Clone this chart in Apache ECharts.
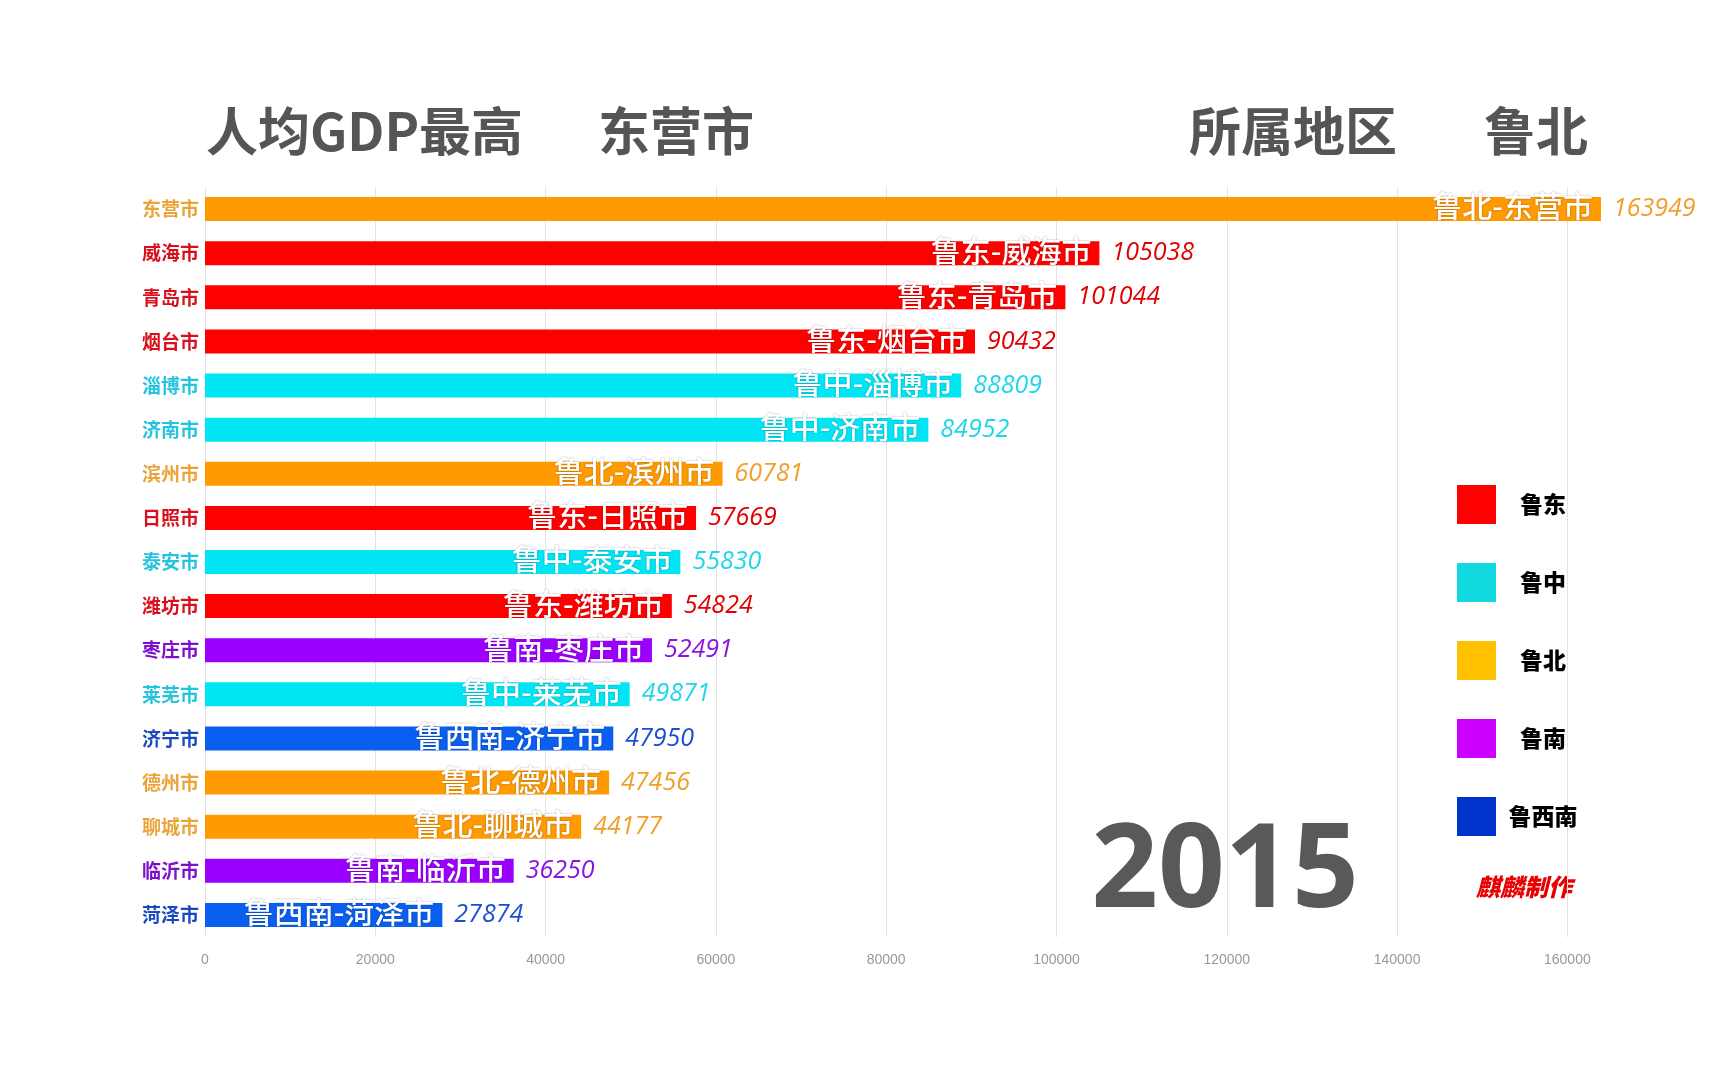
<!DOCTYPE html>
<html>
<head>
<meta charset="utf-8">
<script src="https://cdn.jsdelivr.net/npm/echarts@6/dist/echarts.min.js"></script>
<style>
html,body{margin:0;padding:0;background:#fff;}
#chart{width:1726px;height:1079px;}
</style>
</head>
<body>
<div id="chart"></div>
<script>
// ---- data ----
var cities = ['东营市','威海市','青岛市','烟台市','淄博市','济南市','滨州市','日照市','泰安市','潍坊市','枣庄市','莱芜市','济宁市','德州市','聊城市','临沂市','菏泽市'];
var cityRegions = ['鲁北','鲁东','鲁东','鲁东','鲁中','鲁中','鲁北','鲁东','鲁中','鲁东','鲁南','鲁中','鲁西南','鲁北','鲁北','鲁南','鲁西南'];
var gdpValues = [163949,105038,101044,90432,88809,84952,60781,57669,55830,54824,52491,49871,47950,47456,44177,36250,27874];
var regionNames = ['鲁东','鲁中','鲁北','鲁南','鲁西南'];
var xTicks = [0,20000,40000,60000,80000,100000,120000,140000,160000];
var yearText = '2015';
var topCity = '东营市';
var topRegion = '鲁北';

// ---- styles ----
var barColors = {'鲁东':'#ff0000','鲁中':'#00e6f5','鲁北':'#ff9a00','鲁南':'#9b00ff','鲁西南':'#0a5ff0'};
var valueColors = {'鲁东':'#e00000','鲁中':'#1fd6ea','鲁北':'#f0a02a','鲁南':'#8a14e0','鲁西南':'#1a4fd0'};
var axisColors = {'鲁东':'#d8101c','鲁中':'#22c4de','鲁北':'#eba43a','鲁南':'#7d10cc','鲁西南':'#1a48c0'};
var legendColors = {'鲁东':'#ff0000','鲁中':'#12d8e0','鲁北':'#ffc000','鲁南':'#cc00ff','鲁西南':'#0033cc'};

var chart = echarts.init(document.getElementById('chart'));

var barData = gdpValues.map(function(v,i){
  var r = cityRegions[i];
  return {value:v, itemStyle:{color:barColors[r]}};
});
var valData = gdpValues.map(function(v,i){
  var r = cityRegions[i];
  return {value:v, label:{color:valueColors[r]}};
});

var series = [
  {
    type:'bar', name:'bars', data:barData, barWidth:24, barGap:'-100%',
    animation:false,
    label:{show:true, position:'insideRight', distance:8, offset:[0,-3],
      formatter:function(p){return cityRegions[p.dataIndex]+'-'+cities[p.dataIndex];},
      color:'#fff', fontSize:30, fontWeight:500, fontFamily:'Noto Sans CJK SC',
      textShadowColor:'rgba(0,0,0,0.35)', textShadowBlur:2},
    z:3
  },
  {
    type:'bar', name:'values', data:valData, barWidth:24, barGap:'-100%',
    animation:false,
    itemStyle:{color:'rgba(0,0,0,0)'},
    label:{show:true, position:'right', distance:12,
      fontSize:25, fontStyle:'italic', fontFamily:'Open Sans'},
    z:2
  }
];
regionNames.forEach(function(r){
  series.push({type:'bar', name:r, data:[], barWidth:24, barGap:'-100%', itemStyle:{color:legendColors[r]}});
});

var titleFont = '"Noto Sans CJK SC", sans-serif';

chart.setOption({
  animation:false,
  backgroundColor:'#fff',
  grid:{left:205, right:125, top:187, bottom:142},
  xAxis:{
    type:'value', min:0, max:'dataMax', interval:20000,
    axisLine:{show:false}, axisTick:{show:false},
    axisLabel:{color:'#999', fontSize:14, margin:16, showMaxLabel:false,
      formatter:function(v){return xTicks.indexOf(v)>=0 ? String(v) : '';}},
    splitLine:{show:true, showMaxLine:false, lineStyle:{color:'#e2e2e2', width:1}}
  },
  yAxis:{
    type:'category', data:cities, inverse:true,
    axisLine:{show:false}, axisTick:{show:false},
    axisLabel:{fontSize:19, fontWeight:'bold', fontFamily:titleFont, margin:6,
      color:function(v,i){return axisColors[cityRegions[i]];}}
  },
  legend:{
    data:regionNames, orient:'vertical', left:1452, top:480,
    icon:'rect', itemWidth:39, itemHeight:39, itemGap:39,
    selectedMode:false,
    formatter:function(n){return '{c|'+n+'}';},
    textStyle:{rich:{c:{width:84, align:'center', fontSize:23, fontWeight:900, color:'#000', fontFamily:'"Noto Sans CJK SC"'}}}
  },
  graphic:[
    {type:'text', x:206, y:131, style:{text:'人均GDP最高', fill:'#555', fontSize:52, fontWeight:'bold', fontFamily:titleFont, align:'left', verticalAlign:'middle'}},
    {type:'text', x:598, y:131, style:{text:topCity, fill:'#555', fontSize:52, fontWeight:'bold', fontFamily:titleFont, align:'left', verticalAlign:'middle'}},
    {type:'text', x:1189, y:131, style:{text:'所属地区', fill:'#555', fontSize:52, fontWeight:'bold', fontFamily:titleFont, align:'left', verticalAlign:'middle'}},
    {type:'text', x:1484, y:131, style:{text:topRegion, fill:'#555', fontSize:52, fontWeight:'bold', fontFamily:titleFont, align:'left', verticalAlign:'middle'}},
    {type:'text', x:1225, y:874, z:10, style:{text:yearText, fill:'#595959', fontSize:117, fontWeight:'bold', fontFamily:'"Open Sans", sans-serif', align:'center', verticalAlign:'middle'}},
    {type:'text', x:1524, y:887, style:{text:'麒麟制作', fill:'#e80000', fontSize:24, fontWeight:900, fontStyle:'italic', fontFamily:titleFont, align:'center', verticalAlign:'middle'}}
  ],
  series:series
});
</script>
</body>
</html>
